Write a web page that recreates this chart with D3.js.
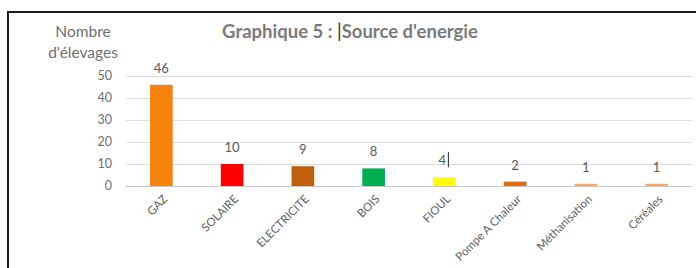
<!DOCTYPE html>
<html>
<head>
<meta charset="utf-8">
<script src="https://cdn.jsdelivr.net/npm/d3@7"></script>
<style>
  body { margin: 0; background: #fff; }
  svg { display: block; font-family: Lato, "Open Sans", sans-serif; }
</style>
</head>
<body>
<svg width="696" height="268"></svg>
<script>
var svg = d3.select("svg");
var width = +svg.attr("width");
var height = +svg.attr("height");

// data
var categories = ["GAZ", "SOLAIRE", "ELECTRICITE", "BOIS", "FIOUL", "Pompe A Chaleur", "Méthanisation", "Céréales"];
var values = [46, 10, 9, 8, 4, 2, 1, 1];
var colors = ["#f5820a", "#ff0000", "#c0600f", "#00b050", "#ffff00", "#e46c0a", "#f4a96a", "#f4a96a"];
var yTicks = [0, 10, 20, 30, 40, 50];

var margin = { top: 76, left: 126, right: 4, bottom: 82 };

// frame of the pasted chart
svg.append("rect")
    .attr("x", 8)
    .attr("y", 12)
    .attr("width", 720)
    .attr("height", 300)
    .attr("fill", "none")
    .attr("stroke", "#1a1a1a")
    .attr("stroke-width", 2);

var x = d3.scaleBand()
    .domain(categories)
    .range([margin.left, width - margin.right])
    .paddingInner(0.68)
    .paddingOuter(0.34);

var y = d3.scaleLinear()
    .domain([0, 50])
    .range([height - margin.bottom, margin.top]);

// gridlines
svg.append("g")
    .selectAll("line")
    .data(yTicks)
    .enter()
    .append("line")
    .attr("x1", margin.left)
    .attr("x2", width - margin.right)
    .attr("y1", function(d) { return Math.round(y(d)) + 0.5; })
    .attr("y2", function(d) { return Math.round(y(d)) + 0.5; })
    .attr("stroke", function(d) { return d === 0 ? "#c8c8c8" : "#dedede"; })
    .attr("stroke-width", 1.2);

// y tick labels
svg.append("g")
    .selectAll("text")
    .data(yTicks)
    .enter()
    .append("text")
    .attr("x", 112)
    .attr("y", function(d) { return y(d); })
    .attr("dy", "0.35em")
    .attr("text-anchor", "end")
    .attr("font-size", 12.5)
    .attr("fill", "#707070")
    .text(function(d) { return d; });

// bars
svg.append("g")
    .selectAll("rect")
    .data(values)
    .enter()
    .append("rect")
    .attr("x", function(d, i) { return x(categories[i]); })
    .attr("y", function(d) { return y(d); })
    .attr("width", x.bandwidth())
    .attr("height", function(d) { return y(0) - y(d); })
    .attr("fill", function(d, i) { return colors[i]; });

// value labels
svg.append("g")
    .selectAll("text")
    .data(values)
    .enter()
    .append("text")
    .attr("x", function(d, i) { return x(categories[i]) + x.bandwidth() / 2 - (i === 4 ? 2 : 0); })
    .attr("y", function(d) { return y(d) - 12; })
    .attr("text-anchor", "middle")
    .attr("font-size", 13)
    .attr("fill", "#5a5a5a")
    .text(function(d) { return d; });

// text cursor after the FIOUL label
svg.append("line")
    .attr("x1", x("FIOUL") + x.bandwidth() / 2 + 4)
    .attr("x2", x("FIOUL") + x.bandwidth() / 2 + 4)
    .attr("y1", y(4) - 25)
    .attr("y2", y(4) - 10)
    .attr("stroke", "#222")
    .attr("stroke-width", 1);

// category labels
svg.append("g")
    .selectAll("text")
    .data(categories)
    .enter()
    .append("text")
    .attr("transform", function(d) {
        return "translate(" + (x(d) + x.bandwidth() / 2 + 4) + "," + (y(0) + 11) + ") rotate(-45)";
    })
    .attr("text-anchor", "end")
    .attr("dy", "0.35em")
    .attr("font-size", 11.5)
    .attr("fill", "#606060")
    .text(function(d) { return d; });

// title
var title = svg.append("text")
    .attr("x", 350)
    .attr("y", 38)
    .attr("text-anchor", "middle")
    .attr("font-size", 18.5)
    .attr("font-weight", "bold")
    .attr("fill", "#7a7a7a");
title.append("tspan").text("Graphique 5 : ");
title.append("tspan").attr("font-weight", "normal").attr("fill", "#222").text("|");
title.append("tspan").text("Source d'energie");

// y axis title
svg.append("text")
    .attr("x", 83)
    .attr("y", 37)
    .attr("text-anchor", "middle")
    .attr("font-size", 15.5)
    .attr("fill", "#707070")
    .text("Nombre");
svg.append("text")
    .attr("x", 83)
    .attr("y", 58)
    .attr("text-anchor", "middle")
    .attr("font-size", 15.5)
    .attr("fill", "#707070")
    .text("d'élevages");
</script>
</body>
</html>
